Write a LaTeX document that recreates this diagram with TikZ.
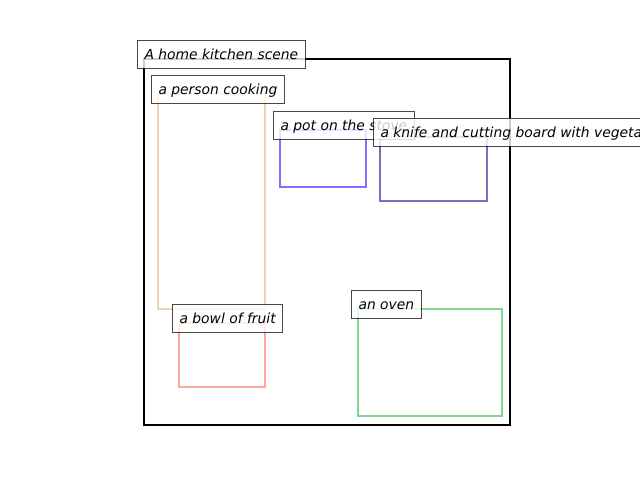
\documentclass[tikz,border=0pt]{standalone}
\usepackage{fontspec}
\setmainfont{DejaVu Sans}
\begin{document}
\begin{tikzpicture}[x=0.75pt,y=-0.75pt,
  region/.style={line width=1.65pt},
  caption/.style={anchor=base west, font=\fontsize{10.4}{12}\selectfont\itshape,
    fill=white, fill opacity=0.8, text opacity=1, draw=black, draw opacity=0.72,
    line width=0.75pt, inner xsep=5.25pt, inner ysep=5.25pt,
    text height=9pt, text depth=1.5pt, xshift=-5.25pt}]
\definecolor{peach}{RGB}{240,212,176}
\definecolor{potblue}{RGB}{128,112,255}
\definecolor{knifepurple}{RGB}{128,106,192}
\definecolor{salmon}{RGB}{255,168,150}
\definecolor{ovengreen}{RGB}{128,216,144}
\useasboundingbox (0,0) rectangle (640,480);
\clip (0,0) rectangle (640,480);

% scene frame and object regions
\draw[line width=2.1pt] (144,59) rectangle (510,425);
\draw[region, peach] (158,94) rectangle (265,309);
\draw[region, potblue] (280,130) rectangle (366,187);
\draw[region, knifepurple] (380,137) rectangle (487,201);
\draw[region, salmon] (179,323) rectangle (265,387);
\draw[region, ovengreen] (358,309) rectangle (502,416);

% captions, baseline on each region's top edge
\node[caption] (scene) at (144,59) {A home kitchen scene};
\node[caption] (person) at (158,94) {a person cooking};
\node[caption] (pot) at (280,130) {a pot on the stove};
\node[caption] (knife) at (380,137) {a knife and cutting board with vegetables};
\node[caption] (bowl) at (179,323) {a bowl of fruit};
\node[caption] (oven) at (358,309) {an oven};
\end{tikzpicture}
\end{document}
